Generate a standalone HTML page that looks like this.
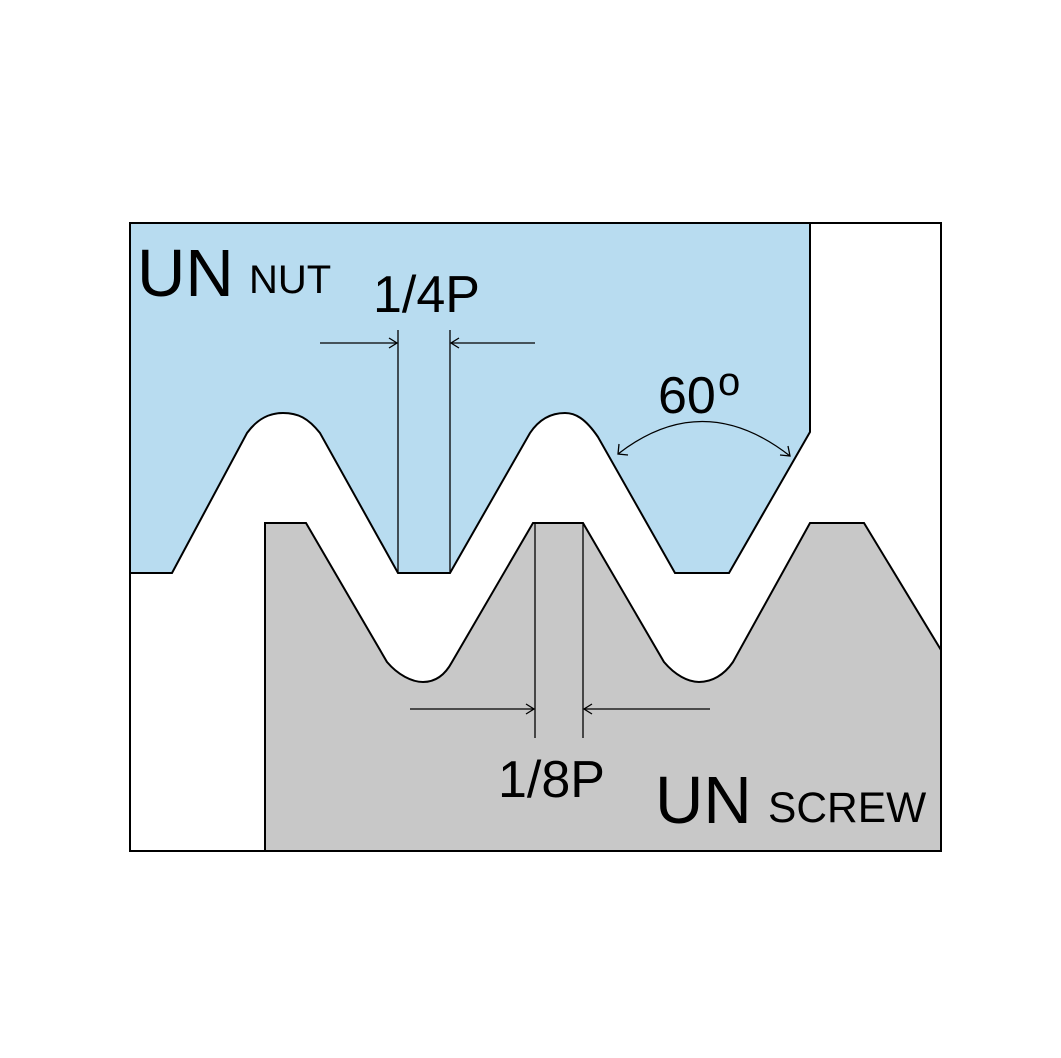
<!DOCTYPE html>
<html><head><meta charset="utf-8"><style>html,body{margin:0;padding:0;background:#fff}svg{display:block}</style></head>
<body>
<svg width="1061" height="1058" viewBox="0 0 1061 1058" xmlns="http://www.w3.org/2000/svg" font-family="Liberation Sans, Arial, sans-serif">
<rect x="130" y="223" width="811" height="628" fill="#fff" stroke="#000" stroke-width="2"/>
<path d="M130,223 L810,223 L810,432 L729,573 L675,573 L598,437 C585,418 575,413 565,413 C552,413 540,418 530,433 L450,573 L398,573 L320,433 C308,418 298,413 283,413 C270,413 258,418 247,433 L172,573 L130,573 Z" fill="#b8dcf0" stroke="#000" stroke-width="2"/>
<path d="M265,851 L265,523 L306,523 L387,662 C398,675 412,682 423,682 C435,682 445,675 452,662 L533,523 L583,523 L664,662 C675,675 688,682 699,682 C712,682 724,675 733,662 L810,523 L864,523 L941,650 L941,851 Z" fill="#c8c8c8" stroke="#000" stroke-width="2"/>
<rect x="130" y="223" width="811" height="628" fill="none" stroke="#000" stroke-width="2"/>
<g stroke="#000" stroke-width="1.3" fill="none">
<line x1="398" y1="330" x2="398" y2="573"/>
<line x1="450" y1="330" x2="450" y2="573"/>
<line x1="320" y1="343" x2="397" y2="343"/>
<path d="M389,338 L397,343 L389,348"/>
<line x1="535" y1="343" x2="451" y2="343"/>
<path d="M459,338 L451,343 L459,348"/>
<line x1="535" y1="523" x2="535" y2="738"/>
<line x1="583" y1="523" x2="583" y2="738"/>
<line x1="410" y1="709" x2="534" y2="709"/>
<path d="M526,704 L534,709 L526,714"/>
<line x1="710" y1="709" x2="584" y2="709"/>
<path d="M592,704 L584,709 L592,714"/>
<path d="M618,454 Q703,388 790,456"/>
<path d="M619,444 L618,454 L628,455"/>
<path d="M780,455 L790,456 L788,446"/>
</g>
<g fill="#000">
<text x="137" y="296" font-size="67">UN</text>
<text x="249" y="293" font-size="40">NUT</text>
<text x="373" y="312" font-size="52">1/4P</text>
<text x="658" y="413" font-size="52">60</text>
<text x="718" y="395" font-size="40">o</text>
<text x="498" y="797" font-size="52">1/8P</text>
<text x="655" y="823" font-size="67">UN</text>
<text x="768" y="822" font-size="42.5">SCREW</text>
</g>
</svg>
</body></html>
